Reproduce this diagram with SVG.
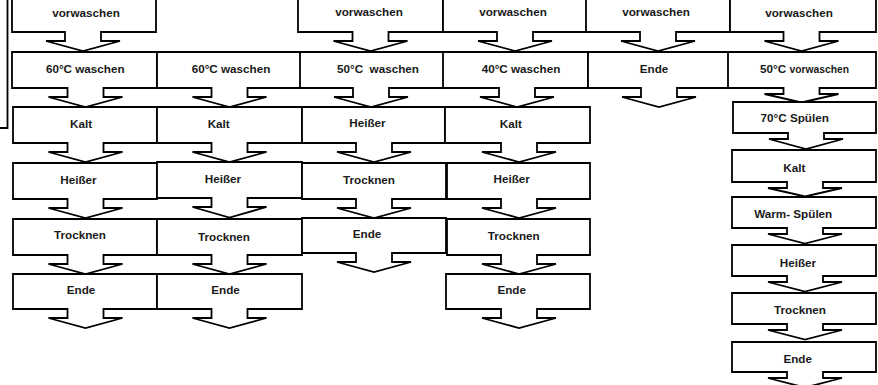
<svg xmlns="http://www.w3.org/2000/svg" width="878" height="385" viewBox="0 0 878 385">
<style>
.s{fill:#fff;stroke:#000;stroke-width:1.8;stroke-linejoin:miter}
.t{font-family:"Liberation Sans",Arial,sans-serif;font-weight:bold;font-size:11.7px;fill:#1a1a1a;text-anchor:middle}
.c{fill:none;stroke:#000;stroke-width:1.8}
</style>
<rect width="878" height="385" fill="#fff"/>
<g id="connectors">
<polyline class="c" points="7.5,0 7.5,128 0,128"/>
</g>
<g id="col1">
<g id="n1a"><polygon class="s" points="12,-5 156,-5 156,32 101,32 101,41 120,41 83,51 46,41 65,41 65,32 12,32"/><text class="t" x="86" y="17">vorwaschen</text></g>
<g id="n1b"><polygon class="s" points="12,52 157,52 157,88 103.5,88 103.5,97 122.5,97 85.5,107 48.5,97 67.5,97 67.5,88 12,88"/><text class="t" x="85.3" y="72.5">60°C waschen</text></g>
<g id="n1c"><polygon class="s" points="13,107 157,107 157,143 103.5,143 103.5,152 122.5,152 85.5,162 48.5,152 67.5,152 67.5,143 13,143"/><text class="t" x="81" y="128.3">Kalt</text></g>
<g id="n1d"><polygon class="s" points="13,163 157,163 157,199 103.5,199 103.5,208 122.5,208 85.5,218 48.5,208 67.5,208 67.5,199 13,199"/><text class="t" x="78.5" y="184">Heißer</text></g>
<g id="n1e"><polygon class="s" points="13,219 157,219 157,255 103.5,255 103.5,264 122.5,264 85.5,274 48.5,264 67.5,264 67.5,255 13,255"/><text class="t" x="80" y="239">Trocknen</text></g>
<g id="n1f"><polygon class="s" points="13,274 157,274 157,309 103.5,309 103.5,318 122.5,318 85.5,328 48.5,318 67.5,318 67.5,309 13,309"/><text class="t" x="81" y="294">Ende</text></g>
</g>
<g id="col2">
<g id="n2b"><polygon class="s" points="157,52 302,52 302,88 247.5,88 247.5,97 266.5,97 229.5,107 192.5,97 211.5,97 211.5,88 157,88"/><text class="t" x="231" y="72.5">60°C waschen</text></g>
<g id="n2c"><polygon class="s" points="157,107 302,107 302,143 247.5,143 247.5,152 266.5,152 229.5,162 192.5,152 211.5,152 211.5,143 157,143"/><text class="t" x="218.7" y="128.3">Kalt</text></g>
<g id="n2d"><polygon class="s" points="157,162 302,162 302,198 247.5,198 247.5,207 266.5,207 229.5,217.5 192.5,207 211.5,207 211.5,198 157,198"/><text class="t" x="223" y="182.7">Heißer</text></g>
<g id="n2e"><polygon class="s" points="157,219 302,219 302,255 247.5,255 247.5,264 266.5,264 229.5,274 192.5,264 211.5,264 211.5,255 157,255"/><text class="t" x="224" y="240.5">Trocknen</text></g>
<g id="n2f"><polygon class="s" points="157,274 302,274 302,309 247.5,309 247.5,318 266.5,318 229.5,328 192.5,318 211.5,318 211.5,309 157,309"/><text class="t" x="225.5" y="294">Ende</text></g>
</g>
<g id="col3">
<g id="n3a"><polygon class="s" points="298,-5 443,-5 443,32 388.5,32 388.5,41 407.5,41 370.5,51 333.5,41 352.5,41 352.5,32 298,32"/><text class="t" x="369" y="16">vorwaschen</text></g>
<g id="n3b"><polygon class="s" points="300,52 444,52 444,88 389,88 389,97 408,97 371,107 334,97 353,97 353,88 300,88"/><text class="t" x="378" y="72.5" style="white-space:pre">50°C  waschen</text></g>
<g id="n3c"><polygon class="s" points="302,107 445,107 445,143 392,143 392,152 411,152 374,162 337,152 356,152 356,143 302,143"/><text class="t" x="367.5" y="126.7">Heißer</text></g>
<g id="n3d"><polygon class="s" points="302,163 446,163 446,199 392,199 392,208 411,208 374,218 337,208 356,208 356,199 302,199"/><text class="t" x="369" y="184">Trocknen</text></g>
<g id="n3e"><polygon class="s" points="302,218 446,218 446,253 392,253 392,262 411,262 374,272 337,262 356,262 356,253 302,253"/><text class="t" x="367" y="237.7">Ende</text></g>
</g>
<g id="col4">
<g id="n4a"><polygon class="s" points="443,-5 587,-5 587,32 533,32 533,41 552,41 515,51 478,41 497,41 497,32 443,32"/><text class="t" x="513" y="16">vorwaschen</text></g>
<g id="n4b"><polygon class="s" points="443,52 588,52 588,88 535,88 535,97 554,97 517,107 480,97 499,97 499,88 443,88"/><text class="t" x="521" y="72.5">40°C waschen</text></g>
<g id="n4c"><polygon class="s" points="445,107 590,107 590,143 537,143 537,152 556,152 519,162 482,152 501,152 501,143 445,143"/><text class="t" x="510.8" y="128.3">Kalt</text></g>
<g id="n4d"><polygon class="s" points="447,163 590,163 590,199 537,199 537,208 556,208 519,218 482,208 501,208 501,199 447,199"/><text class="t" x="511.7" y="183.3">Heißer</text></g>
<g id="n4e"><polygon class="s" points="447,219 590,219 590,255 537,255 537,264 556,264 519,274 482,264 501,264 501,255 447,255"/><text class="t" x="513.7" y="240">Trocknen</text></g>
<g id="n4f"><polygon class="s" points="446,274 590,274 590,309 537,309 537,318 556,318 519,328 482,318 501,318 501,309 446,309"/><text class="t" x="511.7" y="294">Ende</text></g>
</g>
<g id="col5">
<g id="n5a"><polygon class="s" points="586,-5 730,-5 730,32 676,32 676,41 695,41 658,51 621,41 640,41 640,32 586,32"/><text class="t" x="656" y="16">vorwaschen</text></g>
<g id="n5b"><polygon class="s" points="588,52 729,52 729,88 677,88 677,97 696,97 659,107 622,97 641,97 641,88 588,88"/><text class="t" x="654" y="72.7">Ende</text></g>
</g>
<g id="col6">
<g id="n6a"><polygon class="s" points="730,-5 876,-5 876,32 819.5,32 819.5,41 838.5,41 801.5,51 764.5,41 783.5,41 783.5,32 730,32"/><text class="t" x="799" y="17">vorwaschen</text></g>
<g id="n6b"><polygon class="s" points="728,52 876,52 876,88 819.5,88 819.5,94 838.5,94 801.5,102.5 764.5,94 783.5,94 783.5,88 728,88"/><text class="t" x="804.5" y="72.7">50°C <tspan font-size="10.3px">vorwaschen</tspan></text></g>
<g id="n6c"><polygon class="s" points="733,102 876,102 876,133 824,133 824,139 843,139 806,149 769,139 788,139 788,133 733,133"/><text class="t" x="794.7" y="122">70°C Spülen</text></g>
<g id="n6d"><polygon class="s" points="732,150 876,150 876,182 823,182 823,188 842,188 805,196.5 768,188 787,188 787,182 732,182"/><text class="t" x="794.3" y="171.7">Kalt</text></g>
<g id="n6e"><polygon class="s" points="732,197 876,197 876,228 823,228 823,234 842,234 805,243.5 768,234 787,234 787,228 732,228"/><text class="t" x="793.2" y="218.3">Warm- Spülen</text></g>
<g id="n6f"><polygon class="s" points="732,245 876,245 876,276 823,276 823,282 842,282 805,291.5 768,282 787,282 787,276 732,276"/><text class="t" x="798" y="266.7">Heißer</text></g>
<g id="n6g"><polygon class="s" points="732,293 876,293 876,324 823,324 823,330 842,330 805,339.5 768,330 787,330 787,324 732,324"/><text class="t" x="800" y="314.3">Trocknen</text></g>
<g id="n6h"><polygon class="s" points="732,342 876,342 876,372 823,372 823,378 842,378 805,387.5 768,378 787,378 787,372 732,372"/><text class="t" x="797.7" y="362.7">Ende</text></g>
</g>
</svg>
